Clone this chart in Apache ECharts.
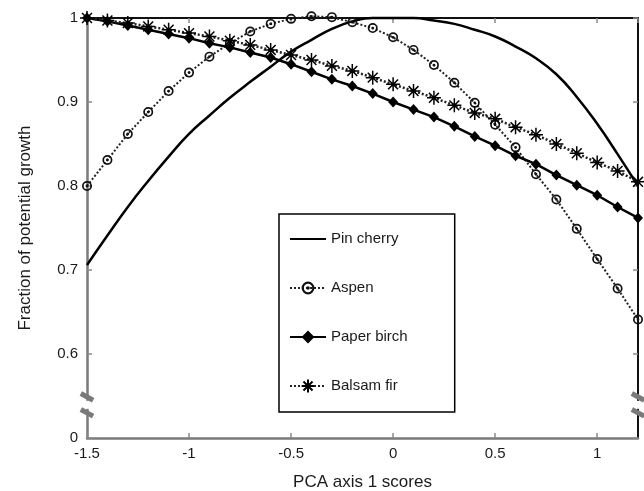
<!DOCTYPE html>
<html>
<head>
<meta charset="utf-8">
<script src="https://cdn.jsdelivr.net/npm/echarts@6/dist/echarts.min.js"></script>
<style>
html,body{margin:0;padding:0;background:#fff;}
#chart{width:644px;height:491px;}
</style>
</head>
<body>
<div id="chart"></div>
<script>
var xValues = [-1.5,-1.4,-1.3,-1.2,-1.1,-1.0,-0.9,-0.8,-0.7,-0.6,-0.5,-0.4,-0.3,-0.2,-0.1,0,0.1,0.2,0.3,0.4,0.5,0.6,0.7,0.8,0.9,1.0,1.1,1.2];
var pinCherry = [0.706,0.741,0.775,0.806,0.835,0.862,0.884,0.905,0.924,0.942,0.960,0.974,0.987,0.996,1.0,1.0,1.0,0.997,0.993,0.986,0.978,0.966,0.952,0.933,0.906,0.874,0.838,0.800];
var aspen = [0.800,0.831,0.862,0.888,0.913,0.935,0.954,0.970,0.984,0.993,0.999,1.002,1.001,0.995,0.988,0.977,0.962,0.944,0.923,0.899,0.873,0.846,0.814,0.784,0.749,0.713,0.678,0.641];
var paperBirch = [1.000,0.996,0.991,0.986,0.981,0.976,0.970,0.965,0.959,0.953,0.945,0.936,0.927,0.919,0.910,0.900,0.891,0.882,0.871,0.859,0.848,0.836,0.826,0.813,0.801,0.789,0.775,0.762];
var balsamFir = [1.000,0.997,0.994,0.990,0.986,0.982,0.978,0.973,0.968,0.962,0.956,0.950,0.943,0.937,0.929,0.921,0.913,0.905,0.896,0.887,0.880,0.870,0.861,0.850,0.839,0.828,0.818,0.805];
var seriesNames = ['Pin cherry','Aspen','Paper birch','Balsam fir'];
var xTickLabels = {'-1.5':'-1.5','-1':'-1','-0.5':'-0.5','0':'0','0.5':'0.5','1':'1'};
var yTickLabels = {'0.5':'0','0.6':'0.6','0.7':'0.7','0.8':'0.8','0.9':'0.9','1':'1'};

function pairs(ys){ return xValues.map(function(x,i){ return [x, ys[i]]; }); }

var FONT = 'Liberation Sans, Arial, sans-serif';
var ringDot = 'path://M0,-10A10,10,0,1,1,0,10A10,10,0,1,1,0,-10ZM0,-6.6A6.6,6.6,0,1,0,0,6.6A6.6,6.6,0,1,0,0,-6.6ZM0,-2.8A2.8,2.8,0,1,1,0,2.8A2.8,2.8,0,1,1,0,-2.8Z';
var star = 'path://M-10,0L10,0M0,-10L0,10M-7.07,-7.07L7.07,7.07M-7.07,7.07L7.07,-7.07';

var chart = echarts.init(document.getElementById('chart'), null, {renderer:'canvas'});
var option = {
  animation: false,
  backgroundColor: '#fff',
  grid: {left: 87, right: 6, top: 18, bottom: 53, containLabel: false, outerBoundsMode: 'none'},
  legend: {
    orient: 'vertical', left: 279, top: 214,
    data: [
      {name: seriesNames[0], itemStyle: {opacity: 0}},
      {name: seriesNames[1]},
      {name: seriesNames[2]},
      {name: seriesNames[3]}
    ],
    itemWidth: 36, itemHeight: 16, itemGap: 33,
    padding: [17, 47, 18, 10],
    borderColor: '#000', borderWidth: 1.5, backgroundColor: '#fff',
    textStyle: {fontFamily: FONT, fontSize: 15, color: '#1a1a1a', lineHeight: 16},
    selectedMode: false
  },
  xAxis: [{
    type: 'value', min: -1.5, max: 1.2, interval: 0.5, position: 'bottom',
    name: 'PCA axis 1 scores', nameLocation: 'middle', nameGap: 36,
    nameTextStyle: {fontFamily: FONT, fontSize: 17, color: '#1a1a1a'},
    axisLine: {onZero: false, lineStyle: {color: '#7a7a7a', width: 2.5}},
    axisTick: {inside: true, length: 5, lineStyle: {color: '#8a8a8a', width: 1.5}},
    axisLabel: {fontFamily: FONT, fontSize: 15, color: '#1a1a1a', margin: 8, showMaxLabel: false,
      formatter: function(v){ var k = String(Math.round(v*10)/10); return xTickLabels[k] !== undefined ? xTickLabels[k] : ''; }},
    splitLine: {show: false}
  },{
    type: 'value', min: -1.5, max: 1.2, interval: 0.5, position: 'top',
    axisLine: {onZero: false, lineStyle: {color: '#111', width: 2}},
    axisTick: {inside: true, length: 5, lineStyle: {color: '#8a8a8a', width: 1.5}},
    axisLabel: {show: false}, splitLine: {show: false}
  }],
  yAxis: [{
    type: 'value', min: 0.5, max: 1.0, interval: 0.1, position: 'left',
    name: 'Fraction of potential growth', nameLocation: 'middle', nameGap: 53,
    nameTextStyle: {fontFamily: FONT, fontSize: 17, color: '#1a1a1a'},
    axisLine: {onZero: false, lineStyle: {color: '#7a7a7a', width: 2.5}},
    axisTick: {inside: true, length: 5, lineStyle: {color: '#8a8a8a', width: 1.5}},
    axisLabel: {fontFamily: FONT, fontSize: 15, color: '#1a1a1a', margin: 9,
      formatter: function(v){ var k = String(Math.round(v*10)/10); return yTickLabels[k] !== undefined ? yTickLabels[k] : ''; }},
    splitLine: {show: false}
  },{
    type: 'value', min: 0.5, max: 1.0, interval: 0.1, position: 'right',
    axisLine: {onZero: false, lineStyle: {color: '#111', width: 2}},
    axisTick: {inside: true, length: 5, lineStyle: {color: '#8a8a8a', width: 1.5}},
    axisLabel: {show: false}, splitLine: {show: false}
  }],
  series: [
    {name: 'Pin cherry', type: 'line', data: pairs(pinCherry), smooth: true, symbol: 'none', clip: false,
     lineStyle: {color: '#000', width: 2.5}, itemStyle: {color: '#000'}, z: 3},
    {name: 'Aspen', type: 'line', data: pairs(aspen), symbol: ringDot, symbolSize: 10, clip: false,
     lineStyle: {color: '#222', width: 2, type: [2, 2]},
     itemStyle: {color: '#111', borderWidth: 0}, z: 4},
    {name: 'Paper birch', type: 'line', data: pairs(paperBirch), symbol: 'diamond', symbolSize: [10, 11], clip: false,
     lineStyle: {color: '#000', width: 2.5}, itemStyle: {color: '#000', borderWidth: 0}, z: 4},
    {name: 'Balsam fir', type: 'line', data: pairs(balsamFir), symbol: star, symbolSize: 14, clip: false,
     lineStyle: {color: '#222', width: 2.5, type: [2, 2]},
     itemStyle: {color: '#000', borderColor: '#000', borderWidth: 1.5}, z: 4}
  ]
};
chart.setOption(option);

function breakMarks(){
  var els = [];
  [-1.5, 1.2].forEach(function(xv){
    var p1 = chart.convertToPixel({xAxisIndex:0, yAxisIndex:0}, [xv, 0.549]);
    var p2 = chart.convertToPixel({xAxisIndex:0, yAxisIndex:0}, [xv, 0.530]);
    var pm = chart.convertToPixel({xAxisIndex:0, yAxisIndex:0}, [xv, 0.5395]);
    els.push({type:'rect', x: pm[0]-3, y: pm[1]-4, shape:{x:0,y:0,width:6,height:8}, style:{fill:'#fff'}, z: 100});
    [p1, p2].forEach(function(p){
      els.push({type:'rect', x: p[0], y: p[1], originX: 0, originY: 0, rotation: -0.5,
        shape:{x:-7,y:-2.5,width:14,height:5}, style:{fill:'#7a7a7a'}, z: 101});
    });
  });
  chart.setOption({graphic: els});
}
breakMarks();
</script>
</body>
</html>
